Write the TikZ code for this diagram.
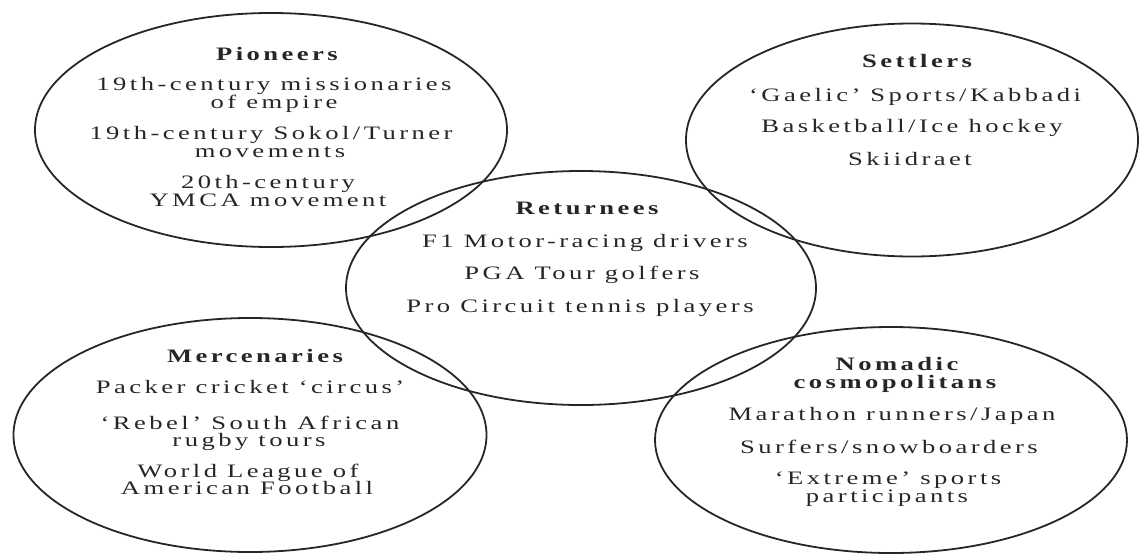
\documentclass[tikz,border=0pt]{standalone}
\usepackage{fontspec}
\setmainfont{Liberation Serif}[LetterSpace=13]
\usetikzlibrary{shapes.geometric}
\newcommand{\wide}[1]{\scalebox{1.4}[1]{#1}}
\tikzset{
  oval/.style={ellipse, draw=black!85, line width=1.8pt, inner sep=0pt},
  txtbase/.style={anchor=base, inner sep=0pt, text=black!85, text height=11.5pt, text depth=3pt},
  head/.style={txtbase, font=\fontsize{19}{22}\selectfont\bfseries},
  item/.style={txtbase, font=\fontsize{19}{22}\selectfont},
}
\begin{document}
\begin{tikzpicture}[x=1pt,y=-1pt]
\useasboundingbox (0,0) rectangle (1139,557);
% ellipses
\node[oval, minimum width=472pt, minimum height=234pt] (pio) at (271,130) {};
\node[oval, minimum width=452pt, minimum height=233pt] (set) at (912,140) {};
\node[oval, minimum width=470pt, minimum height=234pt] (ret) at (581,288) {};
\node[oval, minimum width=473pt, minimum height=234pt] (mer) at (250,435) {};
\node[oval, minimum width=472pt, minimum height=226pt] (nom) at (891,440) {};
% Pioneers
\node[head] (pioH) at (277,60) {\wide{Pioneers}};
\node[item] (pio1a) at (274,90) {\wide{19th-century missionaries}};
\node[item] (pio1b) at (274,108) {\wide{of empire}};
\node[item] (pio2a) at (271,139) {\wide{19th-century Sokol/Turner}};
\node[item] (pio2b) at (270,157) {\wide{movements}};
\node[item] (pio3a) at (268,188) {\wide{20th-century}};
\node[item] (pio3b) at (268,206) {\wide{YMCA movement}};
% Settlers
\node[head] (setH) at (917,67) {\wide{Settlers}};
\node[item] (set1) at (915,101) {\wide{‘Gaelic’ Sports/Kabbadi}};
\node[item] (set2) at (912,132) {\wide{Basketball/Ice hockey}};
\node[item] (set3) at (910,165) {\wide{Skiidraet}};
% Returnees
\node[head] (retH) at (587,214) {\wide{Returnees}};
\node[item] (ret1) at (585,247) {\wide{F1 Motor-racing drivers}};
\node[item] (ret2) at (582,279) {\wide{PGA Tour golfers}};
\node[item] (ret3) at (580,312) {\wide{Pro Circuit tennis players}};
% Mercenaries
\node[head] (merH) at (255,362) {\wide{Mercenaries}};
\node[item] (mer1) at (250,393) {\wide{Packer cricket ‘circus’}};
\node[item] (mer2a) at (250,429) {\wide{‘Rebel’ South African}};
\node[item] (mer2b) at (249,446) {\wide{rugby tours}};
\node[item] (mer3a) at (248,477) {\wide{World League of}};
\node[item] (mer3b) at (247,494) {\wide{American Football}};
% Nomadic cosmopolitans
\node[head] (nomH1) at (897,370) {\wide{Nomadic}};
\node[head] (nomH2) at (895,388) {\wide{cosmopolitans}};
\node[item] (nom1) at (892,420) {\wide{Marathon runners/Japan}};
\node[item] (nom2) at (889,453) {\wide{Surfers/snowboarders}};
\node[item] (nom3a) at (888,484) {\wide{‘Extreme’ sports}};
\node[item] (nom3b) at (887,502) {\wide{participants}};
\end{tikzpicture}
\end{document}
